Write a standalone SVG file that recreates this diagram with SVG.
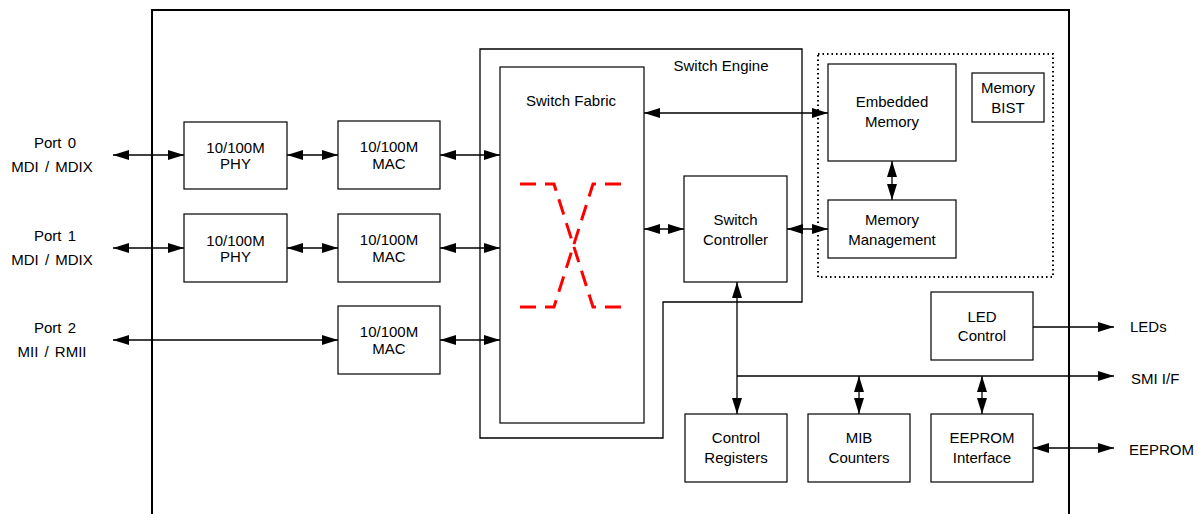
<svg xmlns="http://www.w3.org/2000/svg" width="1198" height="514" viewBox="0 0 1198 514">
<style>
.box{fill:#fff;stroke:#000;stroke-width:1.2}
.t{font-family:"Liberation Sans",Arial,sans-serif;font-size:15px;fill:#000;text-anchor:middle}
.tl{font-family:"Liberation Sans",Arial,sans-serif;font-size:15px;fill:#000;text-anchor:start}
.c{fill:none;stroke:#000;stroke-width:1.3}
</style>
<defs>
<marker id="ah" markerUnits="userSpaceOnUse" markerWidth="16" markerHeight="10" refX="16" refY="5" orient="auto-start-reverse">
<path d="M0,0 L16,5 L0,10 z" fill="#000"/>
</marker>
</defs>
<rect width="1198" height="514" fill="#fff"/>
<g id="chip"><path d="M152,514 V10 H1069 V514" fill="none" stroke="#000" stroke-width="2"/></g>
<g id="switch-engine">
<path d="M480,49 H802 V302 H663 V438 H480 Z" fill="none" stroke="#000" stroke-width="1.3"/>
<text class="t" x="721" y="71">Switch Engine</text>
</g>
<g id="switch-fabric">
<rect class="box" x="500" y="67" width="144" height="356"/>
<text class="t" x="571" y="106">Switch Fabric</text>
<g fill="none" stroke="#f00" stroke-width="3" stroke-dasharray="16,9">
<path d="M520,184 H554 L593,307 H625"/>
<path d="M520,307 H554 L593,184 H625"/>
</g>
</g>
<g id="memory-region"><rect x="818" y="54" width="235" height="223" fill="none" stroke="#000" stroke-width="2" stroke-dasharray="1.5,3"/></g>
<g id="phy0"><rect class="box" x="184" y="122" width="103" height="67"/><text class="t" x="235.5" y="153">10/100M</text><text class="t" x="235.5" y="169">PHY</text></g>
<g id="phy1"><rect class="box" x="184" y="214" width="103" height="68"/><text class="t" x="235.5" y="246">10/100M</text><text class="t" x="235.5" y="262">PHY</text></g>
<g id="mac0"><rect class="box" x="338" y="121" width="102" height="68"/><text class="t" x="389" y="152">10/100M</text><text class="t" x="389" y="169">MAC</text></g>
<g id="mac1"><rect class="box" x="338" y="214" width="102" height="68"/><text class="t" x="389" y="245">10/100M</text><text class="t" x="389" y="262">MAC</text></g>
<g id="mac2"><rect class="box" x="338" y="306" width="102" height="68"/><text class="t" x="389" y="337">10/100M</text><text class="t" x="389" y="354">MAC</text></g>
<g id="switch-controller"><rect class="box" x="684" y="176" width="103" height="106"/><text class="t" x="735.5" y="225">Switch</text><text class="t" x="735.5" y="245">Controller</text></g>
<g id="embedded-memory"><rect class="box" x="828" y="64" width="128" height="97"/><text class="t" x="892" y="107">Embedded</text><text class="t" x="892" y="127">Memory</text></g>
<g id="memory-bist"><rect class="box" x="972" y="73" width="72" height="49"/><text class="t" x="1008" y="93">Memory</text><text class="t" x="1008" y="113">BIST</text></g>
<g id="memory-management"><rect class="box" x="828" y="200" width="128" height="58"/><text class="t" x="892" y="225">Memory</text><text class="t" x="892" y="245">Management</text></g>
<g id="led-control"><rect class="box" x="931" y="292" width="102" height="68"/><text class="t" x="982" y="322">LED</text><text class="t" x="982" y="341">Control</text></g>
<g id="control-registers"><rect class="box" x="685" y="414" width="102" height="68"/><text class="t" x="736" y="443">Control</text><text class="t" x="736" y="463">Registers</text></g>
<g id="mib-counters"><rect class="box" x="808" y="414" width="102" height="68"/><text class="t" x="859" y="443">MIB</text><text class="t" x="859" y="463">Counters</text></g>
<g id="eeprom-interface"><rect class="box" x="931" y="414" width="102" height="68"/><text class="t" x="982" y="443">EEPROM</text><text class="t" x="982" y="463">Interface</text></g>
<g id="labels">
<text class="t" x="55" y="148" word-spacing="2">Port 0</text>
<text class="t" x="52" y="172" word-spacing="2">MDI / MDIX</text>
<text class="t" x="55" y="241" word-spacing="2">Port 1</text>
<text class="t" x="52" y="265" word-spacing="2">MDI / MDIX</text>
<text class="t" x="55" y="333" word-spacing="2">Port 2</text>
<text class="t" x="52" y="357" word-spacing="2">MII / RMII</text>
<text class="tl" x="1130" y="332">LEDs</text>
<text class="tl" x="1131" y="384">SMI I/F</text>
<text class="tl" x="1129" y="455">EEPROM</text>
</g>
<g id="connectors" class="c">
<line class="c" x1="113" y1="155" x2="184" y2="155" marker-start="url(#ah)" marker-end="url(#ah)"/>
<line class="c" x1="113" y1="248" x2="184" y2="248" marker-start="url(#ah)" marker-end="url(#ah)"/>
<line class="c" x1="113" y1="340" x2="338" y2="340" marker-start="url(#ah)" marker-end="url(#ah)"/>
<line class="c" x1="287" y1="155" x2="338" y2="155" marker-start="url(#ah)" marker-end="url(#ah)"/>
<line class="c" x1="287" y1="248" x2="338" y2="248" marker-start="url(#ah)" marker-end="url(#ah)"/>
<line class="c" x1="440" y1="155" x2="500" y2="155" marker-start="url(#ah)" marker-end="url(#ah)"/>
<line class="c" x1="440" y1="248" x2="500" y2="248" marker-start="url(#ah)" marker-end="url(#ah)"/>
<line class="c" x1="440" y1="340" x2="500" y2="340" marker-start="url(#ah)" marker-end="url(#ah)"/>
<line class="c" x1="644" y1="113" x2="828" y2="113" marker-start="url(#ah)" marker-end="url(#ah)"/>
<line class="c" x1="644" y1="229" x2="684" y2="229" marker-start="url(#ah)" marker-end="url(#ah)"/>
<line class="c" x1="787" y1="229" x2="828" y2="229" marker-start="url(#ah)" marker-end="url(#ah)"/>
<line class="c" x1="892" y1="161" x2="892" y2="200" marker-start="url(#ah)" marker-end="url(#ah)"/>
<line class="c" x1="737" y1="282" x2="737" y2="414" marker-start="url(#ah)" marker-end="url(#ah)"/>
<line class="c" x1="737" y1="376" x2="1114" y2="376" marker-end="url(#ah)"/>
<line class="c" x1="859" y1="376" x2="859" y2="414" marker-start="url(#ah)" marker-end="url(#ah)"/>
<line class="c" x1="982" y1="376" x2="982" y2="414" marker-start="url(#ah)" marker-end="url(#ah)"/>
<line class="c" x1="1033" y1="327" x2="1114" y2="327" marker-end="url(#ah)"/>
<line class="c" x1="1033" y1="448" x2="1114" y2="448" marker-start="url(#ah)" marker-end="url(#ah)"/>
</g>
</svg>
